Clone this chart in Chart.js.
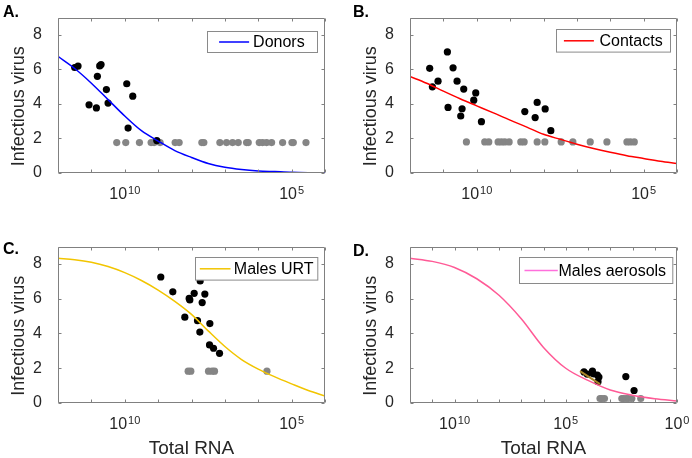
<!DOCTYPE html>
<html>
<head>
<meta charset="utf-8">
<title>Infectious virus vs total RNA</title>
<script src="https://cdn.jsdelivr.net/npm/chart.js@4.4.1/dist/chart.umd.min.js"></script>
<style>
  html, body { margin: 0; padding: 0; background: #fff; }
  #wrap { position: relative; width: 692px; height: 458px; }
  #wrap canvas { position: absolute; }
</style>
</head>
<body>
<div id="wrap">
  <canvas id="panelA" width="346" height="229" style="left:0;top:0"></canvas>
  <canvas id="panelB" width="346" height="229" style="left:346px;top:0"></canvas>
  <canvas id="panelC" width="346" height="229" style="left:0;top:229px"></canvas>
  <canvas id="panelD" width="346" height="229" style="left:346px;top:229px"></canvas>
</div>
<script>
// x values are log10(Total RNA), y values are infectious virus

// fitted curves
const curveExpShort = [12, 11.5, 11, 10.5, 10, 9.5, 9, 8.5, 8, 7.5, 7, 6.5, 6, 5.5, 5, 4.5, 4]
const donorsCurve = [6.75, 6.05, 5.2, 4.25, 3.3, 2.45, 1.85, 1.3, 0.9, 0.55, 0.33, 0.2, 0.12, 0.08, 0.04, 0.02, 0.01]
const contactsCurve = [5.59, 5.2, 4.74, 4.3, 3.89, 3.48, 3.06, 2.66, 2.24, 1.95, 1.67, 1.42, 1.2, 1.0, 0.84, 0.68, 0.55]
const malesUrtCurve = [8.33, 8.25, 8.1, 7.85, 7.5, 7.05, 6.5, 5.85, 5.1, 4.15, 3.25, 2.5, 1.95, 1.5, 1.1, 0.72, 0.4]
const curveExpLong = [12, 11, 10, 9, 8, 7, 6, 5, 4, 3, 2, 1, 0]
const aerosolsCurve = [8.33, 8.15, 7.8, 7.15, 6.2, 4.85, 3.2, 2.0, 1.3, 0.75, 0.45, 0.25, 0.12]
const aerosolsFitExp = [4.36, 3.46]
const aerosolsFit = [1.83, 1.09]

// positive samples (black)
const donorsPosExp = [11.50, 11.40, 10.75, 10.71, 10.82, 10.55, 9.94, 9.76, 11.07, 10.85, 10.50, 9.90, 9.04]
const donorsPos = [6.11, 6.19, 6.20, 6.28, 5.60, 4.83, 5.17, 4.45, 3.95, 3.77, 4.05, 2.60, 1.88]
const contactsPosExp = [11.41, 11.33, 11.16, 10.88, 10.86, 10.71, 10.59, 10.39, 10.44, 10.48, 10.03, 10.09, 9.86, 8.56, 8.19, 8.25, 7.95, 7.78]
const contactsPos = [6.06, 4.99, 5.32, 7.01, 3.80, 6.09, 5.32, 4.86, 3.72, 3.30, 4.64, 4.22, 2.97, 3.56, 4.09, 3.21, 3.71, 2.45]
const malesUrtPosExp = [8.92, 8.56, 7.74, 7.92, 7.60, 8.07, 8.05, 7.68, 8.20, 7.82, 7.45, 7.75, 7.46, 7.34, 7.16]
const malesUrtPos = [7.25, 6.40, 7.02, 6.31, 6.27, 6.02, 5.93, 5.78, 4.94, 4.74, 4.57, 4.08, 3.34, 3.15, 2.86]
const aerosolsPosExp = [4.18, 4.03, 3.80, 3.76, 3.58, 3.51, 3.55, 2.30, 1.93]
const aerosolsPos = [1.79, 1.66, 1.83, 1.68, 1.61, 1.49, 1.23, 1.52, 0.72]

// negative samples (grey, plotted at the detection limit)
const donorsNegExp = [10.24, 9.97, 9.56, 9.21, 9.12, 8.94, 8.49, 8.37, 7.69, 7.63, 7.15, 6.95, 6.77, 6.60, 6.35, 6.30, 5.97, 5.87, 5.75, 5.60, 5.27, 4.99, 4.95, 4.57]
const contactsNegExp = [10.31, 9.76, 9.64, 9.36, 9.26, 9.16, 9.03, 8.68, 8.58, 8.19, 7.96, 7.47, 7.12, 6.60, 6.10, 5.50, 5.40, 5.28]
const malesUrtNegExp = [8.10, 8.02, 7.49, 7.38, 7.31, 5.74]
const aerosolsNegExp = [3.46, 3.38, 3.26, 2.48, 2.41, 2.29, 2.18, 2.03, 1.63]
const donorsLod = 1.76
const contactsLod = 1.80
const malesUrtLod = 1.83
const aerosolsLod = 0.26

// axis ticks
const xTicksShort = [1e12, 1e11, 1e10, 1e9, 1e8, 1e7, 1e6, 1e5, 1e4]
const xTicksLong = [1e12, 1e11, 1e10, 1e9, 1e8, 1e7, 1e6, 1e5, 1e4, 1e3, 1e2, 1e1, 1]
const xTickLabels = [
  { value: 1e10, base: '10', exp: '10' },
  { value: 1e5, base: '10', exp: '5' },
  { value: 1, base: '10', exp: '0' }
]
const yTicks = [0, 2, 4, 6, 8]

;(function() {
  'use strict'

  const FONT = '"Liberation Sans", Arial, Helvetica, sans-serif'
  const TEXT = '#262626'
  const FRAME = '#808080'

  const toXY = (exps, vals) => exps.map((e, i) => ({ x: Math.pow(10, e), y: vals[i] }))
  const atLod = (exps, lod) => exps.map(e => ({ x: Math.pow(10, e), y: lod }))

  // MATLAB-like box, inward ticks, power-of-ten labels, y label, boxed legend and panel letter
  const matlabAxes = {
    id: 'matlabAxes',
    afterDraw(chart, args, o) {
      const { ctx, chartArea: a, scales } = chart
      const xs = scales.x
      const L = Math.round(a.left) + 0.5
      const R = Math.round(a.right) - 0.5
      const T = Math.round(a.top) + 0.5
      const B = Math.round(a.bottom) - 0.5
      ctx.save()
      ctx.strokeStyle = FRAME
      ctx.lineWidth = 1
      ctx.beginPath()
      ctx.rect(L, T, R - L, B - T)
      xs.ticks.forEach(t => {
        const px = Math.round(xs.getPixelForValue(t.value)) + 0.5
        ctx.moveTo(px, B); ctx.lineTo(px, B - 3)
        ctx.moveTo(px, T); ctx.lineTo(px, T + 3)
      })
      scales.y.ticks.forEach(t => {
        const py = Math.round(scales.y.getPixelForValue(t.value)) + 0.5
        ctx.moveTo(L, py); ctx.lineTo(L + 3, py)
        ctx.moveTo(R, py); ctx.lineTo(R - 3, py)
      })
      ctx.stroke()

      // x tick labels with raised exponents
      ctx.fillStyle = TEXT
      ctx.textAlign = 'left'
      ctx.textBaseline = 'alphabetic'
      xTickLabels.forEach(lb => {
        if (lb.value < xs.min || lb.value > xs.max) return
        const px = xs.getPixelForValue(lb.value)
        ctx.font = '16px ' + FONT
        const wb = ctx.measureText(lb.base).width
        ctx.font = '11px ' + FONT
        const we = ctx.measureText(lb.exp).width
        const x0 = px - (wb + we + 1) / 2
        ctx.font = '16px ' + FONT
        ctx.fillText(lb.base, x0, a.bottom + 25.5)
        ctx.font = '11px ' + FONT
        ctx.fillText(lb.exp, x0 + wb + 1, a.bottom + 20.5)
      })

      // y axis label, sitting a little below the middle as in the original
      ctx.save()
      ctx.translate(a.left - 39, (a.top + a.bottom) / 2 + 11)
      ctx.rotate(-Math.PI / 2)
      ctx.font = '18px ' + FONT
      ctx.textAlign = 'center'
      ctx.textBaseline = 'middle'
      ctx.fillText('Infectious virus', 0, 0)
      ctx.restore()

      // legend box
      const lg = o.legend
      const bx = Math.round(a.right - lg.right - lg.w) + 0.5
      const by = Math.round(a.top + lg.top) + 0.5
      ctx.fillStyle = '#fff'
      ctx.fillRect(bx, by, lg.w, lg.h)
      ctx.strokeStyle = '#8a8a8a'
      ctx.strokeRect(bx, by, lg.w, lg.h)
      const my = by + lg.h / 2
      ctx.strokeStyle = lg.color
      ctx.lineWidth = 1.5
      ctx.beginPath()
      ctx.moveTo(bx + lg.lineOff, my)
      ctx.lineTo(bx + lg.lineOff + lg.lineLen, my)
      ctx.stroke()
      ctx.fillStyle = '#000'
      ctx.font = '16px ' + FONT
      ctx.textBaseline = 'middle'
      ctx.fillText(lg.text, bx + lg.textOff, my + 1)

      // panel letter
      ctx.font = 'bold 16px ' + FONT
      ctx.textBaseline = 'alphabetic'
      ctx.fillText(o.letter, o.letterX, o.letterY)
      ctx.restore()
    }
  }

  function makePanel(id, p) {
    const canvas = document.getElementById(id)
    // eslint-disable-next-line no-undef
    return new Chart(canvas.getContext('2d'), {
      type: 'scatter',
      data: {
        datasets: p.datasets
      },
      options: {
        responsive: false,
        animation: false,
        events: [],
        layout: { padding: { top: p.padTop, right: p.padRight, left: 0, bottom: 0 } },
        plugins: {
          legend: { display: false },
          tooltip: { enabled: false },
          matlabAxes: { legend: p.legend, letter: p.letter, letterX: p.letterX, letterY: p.letterY }
        },
        scales: {
          x: {
            type: 'logarithmic',
            reverse: true,
            min: p.xMin,
            max: 1e12,
            grid: { display: false },
            border: { display: false },
            afterFit: s => { s.height = p.xHeight },
            afterBuildTicks: s => { s.ticks = p.xTicks.map(v => ({ value: v })) },
            ticks: { display: false },
            title: {
              display: p.showXTitle,
              text: 'Total RNA',
              color: TEXT,
              font: { family: FONT, size: 19 },
              padding: { top: 0, bottom: -2 }
            }
          },
          y: {
            min: 0,
            max: 9,
            grid: { display: false },
            border: { display: false },
            afterFit: s => { s.width = p.yWidth },
            afterBuildTicks: s => { s.ticks = yTicks.map(v => ({ value: v })) },
            ticks: {
              padding: 8,
              color: TEXT,
              font: { family: FONT, size: 16 }
            },
            title: { display: false }
          }
        }
      },
      plugins: [matlabAxes]
    })
  }

  const curve = (exps, vals, color) => ({
    data: toXY(exps, vals),
    showLine: true,
    borderColor: color,
    borderWidth: 1.5,
    pointRadius: 0,
    cubicInterpolationMode: 'monotone',
    order: 0
  })
  const dots = (data, color, order) => ({
    data,
    pointRadius: 3.6,
    pointBackgroundColor: color,
    pointBorderWidth: 0,
    order
  })

  makePanel('panelA', {
    padTop: 9, padRight: 21, yWidth: 58, xHeight: 56, xMin: 1e4, xTicks: xTicksShort, showXTitle: false,
    letter: 'A.', letterX: 3, letterY: 16.5,
    legend: { text: 'Donors', color: '#0000ff', right: 8.3, top: 13.7, w: 110, h: 21, lineOff: 11.6, lineLen: 30, textOff: 45.6 },
    datasets: [
      curve(curveExpShort, donorsCurve, '#0000ff'),
      dots(toXY(donorsPosExp, donorsPos), '#000000', 1),
      dots(atLod(donorsNegExp, donorsLod), '#858585', 2)
    ]
  })

  makePanel('panelB', {
    padTop: 9, padRight: 15, yWidth: 64, xHeight: 56, xMin: 1e4, xTicks: xTicksShort, showXTitle: false,
    letter: 'B.', letterX: 7, letterY: 16.5,
    legend: { text: 'Contacts', color: '#ff0000', right: 7.5, top: 11.7, w: 114, h: 22.6, lineOff: 7.4, lineLen: 30, textOff: 43 },
    datasets: [
      curve(curveExpShort, contactsCurve, '#ff0000'),
      dots(toXY(contactsPosExp, contactsPos), '#000000', 1),
      dots(atLod(contactsNegExp, contactsLod), '#858585', 2)
    ]
  })

  makePanel('panelC', {
    padTop: 11, padRight: 21, yWidth: 58, xHeight: 55, xMin: 1e4, xTicks: xTicksShort, showXTitle: true,
    letter: 'C.', letterX: 3, letterY: 25,
    legend: { text: 'Males URT', color: '#f2c500', right: 7.7, top: 10.7, w: 122.3, h: 22.6, lineOff: 4.3, lineLen: 30.7, textOff: 38.3 },
    datasets: [
      curve(curveExpShort, malesUrtCurve, '#f2c500'),
      dots(toXY(malesUrtPosExp, malesUrtPos), '#000000', 1),
      dots(atLod(malesUrtNegExp, malesUrtLod), '#858585', 2)
    ]
  })

  makePanel('panelD', {
    padTop: 11, padRight: 15, yWidth: 64, xHeight: 55, xMin: 1, xTicks: xTicksLong, showXTitle: true,
    letter: 'D.', letterX: 7, letterY: 26.5,
    legend: { text: 'Males aerosols', color: '#ff6fdc', right: 5, top: 10.7, w: 153.3, h: 26, lineOff: 5, lineLen: 33.3, textOff: 39 },
    datasets: [
      curve(curveExpLong, aerosolsCurve, '#ff5a96'),
      Object.assign(curve(aerosolsFitExp, aerosolsFit, '#a8842a'), { borderWidth: 2 }),
      dots(toXY(aerosolsPosExp, aerosolsPos), '#000000', 1),
      dots(atLod(aerosolsNegExp, aerosolsLod), '#858585', 2)
    ]
  })
})();
</script>
</body>
</html>
